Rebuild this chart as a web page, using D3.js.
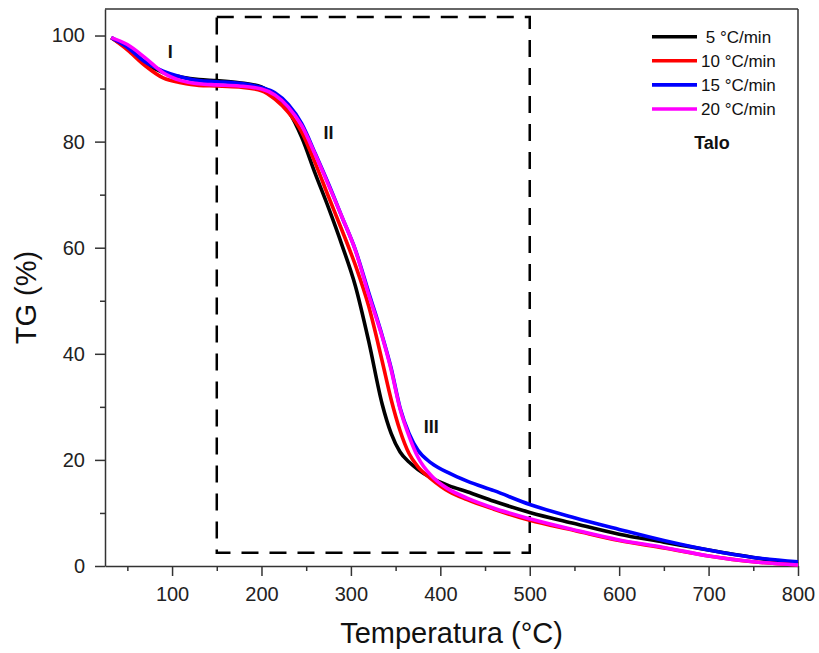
<!DOCTYPE html>
<html>
<head>
<meta charset="utf-8">
<script src="https://cdn.jsdelivr.net/npm/d3@7"></script>
<style>
  body { margin: 0; background: #fff; }
  text { font-family: Arial, "Liberation Sans", sans-serif; }
</style>
</head>
<body>
<svg id="chart"></svg>
<script>
// temperatures (°C) at which the curves were read
const temps = [32, 50, 70, 90, 110, 130, 150, 175, 200, 215, 230, 245, 260, 275, 290, 305, 320, 335, 345, 355, 365, 375, 390, 410, 430, 460, 500, 550, 600, 650, 700, 750, 800];

const tg5  = [99.6, 97.6, 94.8, 93.0, 92.2, 91.7, 91.5, 91.1, 90.3, 88.7, 85.8, 80.8, 74.0, 67.5, 60.5, 52.8, 42.3, 30.5, 25.0, 21.5, 19.6, 18.2, 16.6, 15.1, 14.0, 12.2, 10.1, 8.0, 6.0, 4.5, 3.0, 1.6, 0.4];
const tg10 = [99.6, 97.3, 94.3, 92.0, 91.1, 90.6, 90.5, 90.3, 89.6, 88.0, 85.5, 81.8, 76.0, 69.6, 63.3, 56.7, 48.9, 38.6, 31.4, 25.5, 21.2, 18.7, 16.4, 14.0, 12.5, 10.7, 8.6, 6.7, 4.8, 3.4, 1.9, 0.8, 0.2];
const tg15 = [99.6, 97.8, 95.0, 93.3, 92.2, 91.5, 91.3, 91.0, 90.2, 89.2, 87.0, 83.4, 77.8, 72.0, 65.8, 59.6, 51.5, 43.4, 37.3, 29.8, 25.0, 21.8, 19.4, 17.5, 16.0, 14.2, 11.6, 9.1, 6.9, 4.8, 3.0, 1.6, 0.8];
const tg20 = [99.6, 98.3, 95.8, 93.0, 91.5, 90.9, 90.7, 90.5, 89.9, 88.8, 86.5, 83.0, 77.6, 71.8, 65.8, 59.5, 51.1, 43.2, 37.0, 29.6, 24.5, 20.5, 17.0, 14.4, 12.8, 10.9, 8.9, 6.8, 4.9, 3.5, 1.9, 0.8, 0.2];

const seriesNames = [" 5 °C/min", "10 °C/min", "15 °C/min", "20 °C/min"];
const seriesColors = ["#000000", "#ff0000", "#0000ff", "#ff00ff"];
const seriesValues = [tg5, tg10, tg15, tg20];

const xTicks = [100, 200, 300, 400, 500, 600, 700, 800];
const xMinor = [50, 150, 250, 350, 450, 550, 650, 750];
const yTicks = [0, 20, 40, 60, 80, 100];
const yMinor = [10, 30, 50, 70, 90];

// dashed region (stage II) and stage labels
const boxTemp = [150, 500];
const boxTG = [2.5, 103.5];
const stageLabels = [
  { text: "I", t: 98, v: 95.8 },
  { text: "II", t: 275, v: 80.5 },
  { text: "III", t: 390, v: 25.1 }
];

const width = 819, height = 653;
const margin = { top: 9, right: 21, bottom: 87, left: 105 };

const svg = d3.select("#chart")
  .attr("width", width)
  .attr("height", height);

const x = d3.scaleLinear()
  .domain([25, 800])
  .range([margin.left, width - margin.right]);

const y = d3.scaleLinear()
  .domain([0, 105])
  .range([height - margin.bottom, margin.top]);

const axisColor = "#333";

// frame (top and right)
svg.append("line")
  .attr("x1", x(25)).attr("x2", x(800))
  .attr("y1", y(105)).attr("y2", y(105))
  .attr("stroke", axisColor).attr("stroke-width", 1.5);
svg.append("line")
  .attr("x1", x(800)).attr("x2", x(800))
  .attr("y1", y(105)).attr("y2", y(0))
  .attr("stroke", axisColor).attr("stroke-width", 1.5);

// x axis
svg.append("g")
  .attr("transform", `translate(0, ${y(0)})`)
  .call(d3.axisBottom(x).tickValues(xTicks).tickSize(10).tickSizeOuter(0).tickPadding(11));
svg.append("g")
  .attr("transform", `translate(0, ${y(0)})`)
  .call(d3.axisBottom(x).tickValues(xMinor).tickSize(5).tickFormat(""))
  .call(g => g.select(".domain").remove());

// y axis
svg.append("g")
  .attr("transform", `translate(${x(25)}, 0)`)
  .call(d3.axisLeft(y).tickValues(yTicks).tickSize(10).tickSizeOuter(0).tickPadding(10));
svg.append("g")
  .attr("transform", `translate(${x(25)}, 0)`)
  .call(d3.axisLeft(y).tickValues(yMinor).tickSize(5).tickFormat(""))
  .call(g => g.select(".domain").remove());

svg.selectAll(".tick line, .domain")
  .attr("stroke", axisColor)
  .attr("stroke-width", 1.5);
svg.selectAll(".tick text")
  .attr("fill", "#222")
  .style("font-size", "20px");

// axis titles
svg.append("text")
  .attr("x", (x(25) + x(800)) / 2)
  .attr("y", 643)
  .attr("text-anchor", "middle")
  .style("font-size", "29px")
  .attr("fill", "#111")
  .text("Temperatura (°C)");

svg.append("text")
  .attr("transform", `translate(36, ${(y(0) + y(105)) / 2 + 10}) rotate(-90)`)
  .attr("text-anchor", "middle")
  .style("font-size", "29px")
  .attr("fill", "#111")
  .text("TG (%)");

// dashed box
svg.append("rect")
  .attr("x", x(boxTemp[0]))
  .attr("y", y(boxTG[1]))
  .attr("width", x(boxTemp[1]) - x(boxTemp[0]))
  .attr("height", y(boxTG[0]) - y(boxTG[1]))
  .attr("fill", "none")
  .attr("stroke", "#000")
  .attr("stroke-width", 2.5)
  .attr("stroke-dasharray", "17,11");

// curves
const line = d3.line()
  .x((d, i) => x(temps[i]))
  .y(d => y(d))
  .curve(d3.curveMonotoneX);

seriesValues.forEach((vals, k) => {
  svg.append("path")
    .datum(vals)
    .attr("d", line)
    .attr("fill", "none")
    .attr("stroke", seriesColors[k])
    .attr("stroke-width", 3.6)
    .attr("stroke-linejoin", "round");
});

// stage labels
svg.selectAll(".stage")
  .data(stageLabels)
  .enter()
  .append("text")
    .attr("class", "stage")
    .attr("x", d => x(d.t))
    .attr("y", d => y(d.v))
    .attr("text-anchor", "middle")
    .style("font-size", "18px")
    .style("font-weight", "bold")
    .attr("fill", "#111")
    .text(d => d.text);

// legend
const legend = svg.append("g");
seriesNames.forEach((name, k) => {
  const ly = 36.7 + k * 24.1;
  legend.append("line")
    .attr("x1", 652).attr("x2", 697)
    .attr("y1", ly).attr("y2", ly)
    .attr("stroke", seriesColors[k])
    .attr("stroke-width", 3.6);
  legend.append("text")
    .attr("x", 701)
    .attr("y", ly + 6)
    .style("font-size", "17px")
    .style("white-space", "pre")
    .attr("fill", "#111")
    .text(name);
});

legend.append("text")
  .attr("x", 712)
  .attr("y", 148.5)
  .attr("text-anchor", "middle")
  .style("font-size", "18px")
  .style("font-weight", "bold")
  .attr("fill", "#111")
  .text("Talo");
</script>
</body>
</html>
